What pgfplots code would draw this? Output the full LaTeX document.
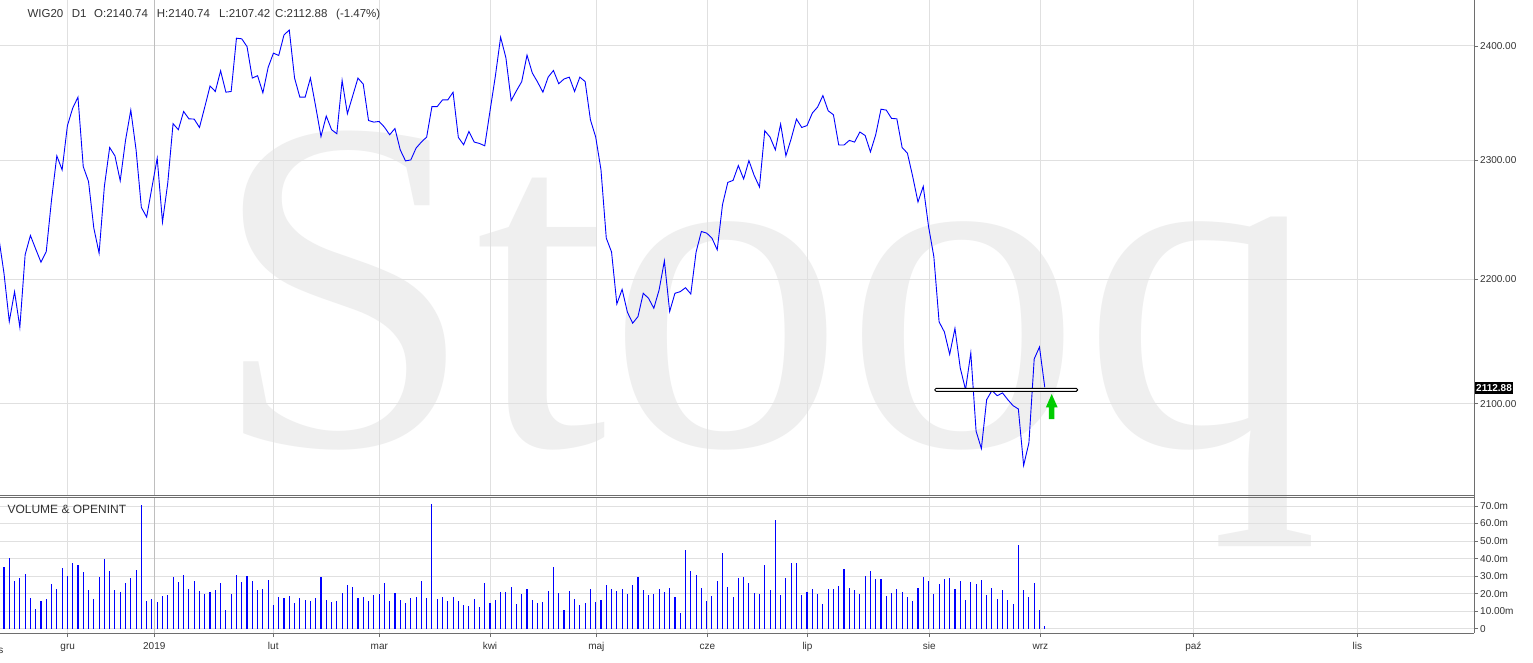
\documentclass[border=0pt]{standalone}
\usepackage{pgfplots}
\pgfplotsset{compat=1.18}
\usepackage{fontspec}
\setmainfont{Liberation Sans}
\newfontfamily\wmfont{Liberation Serif}
\definecolor{wm}{RGB}{239,239,239}
\definecolor{gridc}{RGB}{224,224,224}
\definecolor{gridd}{RGB}{190,190,190}
\definecolor{axc}{RGB}{110,110,110}
\definecolor{txt}{RGB}{51,51,51}
\definecolor{lineblue}{RGB}{0,0,255}
\definecolor{arrowg}{RGB}{0,204,0}

\pgfplotstableread{
j p
-1 2234.8
0 2204.7
1 2165.4
2 2189.7
3 2160.8
4 2220.0
5 2236.1
6 2224.8
7 2213.9
8 2222.8
9 2266.1
10 2303.5
11 2291.5
12 2329.5
13 2344.9
14 2354.5
15 2294.3
16 2281.6
17 2242.3
18 2221.4
19 2277.4
20 2310.7
21 2303.5
22 2282.2
23 2316.8
24 2343.2
25 2308.7
26 2259.6
27 2251.5
28 2276.5
29 2301.5
30 2247.3
31 2280.3
32 2331.3
33 2326.1
34 2342.0
35 2335.6
36 2335.3
37 2328.0
38 2345.8
39 2364.3
40 2359.5
41 2377.8
42 2358.9
43 2359.5
44 2406.9
45 2406.3
46 2399.4
47 2371.3
48 2373.4
49 2358.3
50 2380.8
51 2393.5
52 2391.4
53 2409.9
54 2414.2
55 2371.3
56 2354.5
57 2354.5
58 2371.3
59 2346.3
60 2320.2
61 2338.0
62 2326.1
63 2322.6
64 2369.2
65 2340.0
66 2355.6
67 2371.3
68 2366.0
69 2334.1
70 2332.7
71 2333.3
72 2328.4
73 2321.7
74 2327.2
75 2308.7
76 2299.2
77 2300.0
78 2310.2
79 2315.4
80 2319.7
81 2346.3
82 2346.3
83 2352.1
84 2352.1
85 2358.9
86 2319.4
87 2313.0
88 2324.6
89 2315.4
90 2314.2
91 2312.2
92 2342.6
93 2372.8
94 2407.8
95 2389.4
96 2351.5
97 2360.1
98 2368.3
99 2391.7
100 2375.8
101 2367.8
102 2358.9
103 2372.2
104 2378.1
105 2366.3
106 2370.5
107 2372.2
108 2359.5
109 2372.2
110 2368.3
111 2334.7
112 2319.7
113 2291.5
114 2233.9
115 2222.3
116 2179.7
117 2191.6
118 2173.0
119 2164.1
120 2169.4
121 2188.4
122 2184.3
123 2176.2
124 2191.1
125 2215.0
126 2173.5
127 2188.4
128 2189.7
129 2192.9
130 2187.8
131 2222.3
132 2239.4
133 2238.1
134 2233.9
135 2224.2
136 2261.9
137 2280.8
138 2282.5
139 2295.2
140 2283.7
141 2299.4
142 2286.7
143 2276.9
144 2325.2
145 2319.7
146 2308.7
147 2331.0
148 2303.5
149 2318.3
150 2335.3
151 2328.0
152 2329.7
153 2340.6
154 2345.8
155 2355.9
156 2342.6
157 2339.1
158 2312.8
159 2312.8
160 2316.8
161 2315.4
162 2324.1
163 2321.1
164 2306.9
165 2321.7
166 2344.0
167 2343.2
168 2335.9
169 2335.6
170 2310.7
171 2305.8
172 2285.9
173 2264.2
174 2277.4
175 2243.6
176 2218.6
177 2165.1
178 2157.0
179 2139.1
180 2159.9
181 2128.3
182 2111.1
183 2140.2
184 2078.6
185 2065.2
186 2103.2
187 2110.3
188 2106.3
189 2108.5
190 2103.2
191 2098.5
192 2095.9
193 2052.2
194 2069.6
195 2135.4
196 2144.9
197 2112.88
}\pricetable

\pgfplotstableread{
j v
0 35.3
1 40.2
2 27.4
3 28.9
4 31.1
5 17.5
6 11.3
7 16.0
8 17.0
9 25.5
10 22.6
11 34.5
12 30.2
13 37.4
14 36.4
15 32.5
16 22.1
17 17.0
18 29.6
19 39.6
20 33.0
21 22.1
22 21.1
23 26.0
24 28.9
25 33.4
26 70.5
27 16.0
28 17.0
29 15.5
30 18.7
31 19.2
32 29.6
33 26.8
34 30.6
35 22.6
36 27.4
37 21.7
38 19.8
39 21.1
40 22.1
41 26.0
42 10.4
43 19.8
44 30.6
45 26.8
46 30.0
47 27.4
48 22.1
49 22.6
50 27.7
51 13.6
52 18.3
53 17.5
54 18.7
55 14.7
56 17.5
57 16.6
58 16.0
59 17.5
60 29.6
61 16.6
62 15.5
63 16.0
64 20.4
65 24.9
66 24.0
67 17.5
68 18.3
69 16.0
70 19.2
71 19.8
72 26.2
73 16.0
74 20.6
75 16.6
76 14.7
77 17.5
78 18.3
79 27.4
80 17.5
81 71.0
82 17.0
83 18.3
84 16.0
85 18.3
86 16.0
87 13.8
88 13.2
89 17.0
90 12.1
91 26.2
92 14.7
93 16.6
94 21.1
95 21.1
96 24.0
97 14.2
98 19.8
99 22.6
100 16.6
101 14.7
102 15.5
103 21.7
104 35.3
105 20.4
106 10.9
107 21.7
108 17.0
109 13.6
110 14.7
111 22.6
112 15.5
113 16.6
114 24.9
115 22.6
116 21.7
117 22.6
118 19.8
119 24.9
120 29.6
121 22.3
122 19.2
123 19.8
124 22.6
125 21.1
126 23.2
127 18.3
128 9.2
129 44.9
130 33.0
131 30.6
132 23.2
133 15.8
134 18.7
135 27.4
136 43.2
137 24.0
138 18.3
139 28.9
140 29.6
141 26.0
142 20.4
143 19.8
144 36.4
145 22.1
146 62.2
147 19.2
148 28.9
149 37.5
150 37.5
151 19.2
152 21.1
153 22.6
154 19.8
155 14.2
156 22.6
157 22.6
158 24.3
159 34.0
160 23.2
161 22.1
162 19.8
163 30.0
164 33.0
165 28.3
166 28.3
167 18.7
168 20.4
169 22.6
170 21.1
171 18.3
172 15.8
173 23.2
174 29.6
175 27.4
176 19.8
177 25.5
178 28.3
179 28.9
180 22.6
181 27.4
182 16.6
183 26.8
184 25.5
185 27.7
186 19.2
187 23.2
188 17.0
189 22.1
190 16.4
191 14.2
192 47.8
193 22.1
194 18.3
195 26.0
196 10.8
197 1.3
}\voltable

\begin{document}
\begin{tikzpicture}
\useasboundingbox (0pt,0pt) rectangle (1533pt,662pt);
\fill[white] (0pt,0pt) rectangle (1533pt,662pt);
% watermark
\node[anchor=base west, inner sep=0pt, text=wm, font=\wmfont\fontsize{475}{475}\selectfont] at (211pt,217pt) {Stooq};

\pgfplotsset{
  common/.style={
    scale only axis, width=1474pt,
    xmin=-0.757, xmax=278.25,
    axis line style={draw=none},
    xtick={12.06,50.97,71.04,91.99,112.13,133.16,152.09,175.15,196.18,225.12,256.16},
    extra x ticks={28.45},
    extra x tick style={grid style={gridd, line width=0.9pt}},
    xmajorgrids, ymajorgrids,
    grid style={gridc, line width=0.9pt},
    yticklabel pos=right, ytick pos=right, xtick pos=bottom,
    tick align=outside, major tick length=4pt,
    y tick style={axc, line width=0.7pt},
    yticklabel style={font=\fontsize{10}{12}\selectfont, text=txt, anchor=west, inner sep=0pt, xshift=2pt},
  }
}

% price panel (logarithmic price scale)
\begin{axis}[common,
  at={(0pt,167pt)}, anchor=south west, height=495pt,
  y coord trafo/.code={\pgfmathparse{ln(#1)}},
  y coord inv trafo/.code={\pgfmathparse{exp(#1)}},
  ymin=2029.9, ymax=2441.5,
  xticklabels={}, extra x tick labels={},
  x tick style={draw=none},
  ytick={2100,2200,2300,2400},
  yticklabels={2100.00,2200.00,2300.00,2400.00},
]
\addplot[lineblue, line width=0.9pt] table[x=j, y=p] {\pricetable};
\end{axis}

% volume panel
\begin{axis}[common,
  at={(0pt,29pt)}, anchor=south west, height=135.7pt,
  ymin=-2.45, ymax=74.96,
  xticklabels={gru,lut,mar,kwi,maj,cze,lip,sie,wrz,paź,lis},
  extra x tick labels={2019},
  x tick style={axc, line width=0.7pt},
  xticklabel style={font=\fontsize{10}{12}\selectfont, text=txt, anchor=base, inner sep=0pt, yshift=-12pt},
  ytick={0,10,20,30,40,50,60,70},
  yticklabels={0,10.00m,20.0m,30.0m,40.0m,50.0m,60.0m,70.0m},
]
\addplot[ycomb, lineblue, line width=1.1pt] table[x=j, y=v] {\voltable};
\end{axis}

\begin{scope}[x=1pt,y=1pt]
% panel frames
\draw[axc, line width=1pt] (0,167) -- (1474,167);
\draw[axc, line width=1pt] (0,164.7) -- (1474,164.7);
\draw[axc, line width=1pt] (0,29) -- (1474,29);
\draw[axc, line width=1pt] (1474,29) -- (1474,662);

% support line annotation and arrow
\draw[black, line width=0.9pt, fill=white, rounded corners=1.4pt] (934.7,270.7) rectangle (1077.7,273.7);
\fill[arrowg] (1051.7,268) -- (1057.6,254.7) -- (1054.3,254.7) -- (1054.3,243) -- (1048.8,243) -- (1048.8,254.7) -- (1045.9,254.7) -- cycle;

% last price label
\node[fill=black, text=white, font=\bfseries\fontsize{10}{12}\selectfont, inner xsep=1.5pt, inner ysep=2.5pt, anchor=west] at (1474.5,274) {2112.88};

% header
\begin{scope}[every node/.style={anchor=base west, inner sep=0pt, text=txt, font=\fontsize{11.5}{13}\selectfont}]
\node at (27.3,644.3) {WIG20};
\node at (71.7,644.3) {D1};
\node at (94,644.3) {O:2140.74};
\node at (156.7,644.3) {H:2140.74};
\node at (219,644.3) {L:2107.42};
\node at (275,644.3) {C:2112.88};
\node at (336,644.3) {(-1.47\%)};
\node[font=\fontsize{12}{14}\selectfont] at (7.3,149) {VOLUME \& OPENINT};
\end{scope}
\node[anchor=base east, inner sep=0pt, text=txt, font=\fontsize{10}{12}\selectfont] at (3.5,9) {lis};
\end{scope}
\end{tikzpicture}
\end{document}
